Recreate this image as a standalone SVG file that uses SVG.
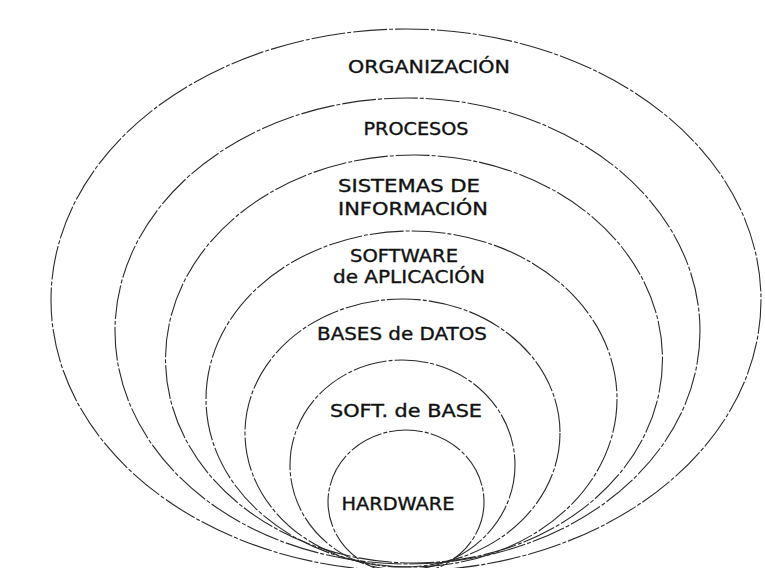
<svg xmlns="http://www.w3.org/2000/svg" width="765" height="568" viewBox="0 0 765 568">
<style>
.ring{fill:none;stroke:#2a2a2a;stroke-width:1.1;stroke-dasharray:34 2 4 2}
.lbl{font-family:"DejaVu Sans","Liberation Sans",sans-serif;font-size:17px;fill:#111;stroke:#111;stroke-width:0.35;text-anchor:middle}
</style>
<rect width="765" height="568" fill="#fff"/>
<g id="organizacion">
<ellipse class="ring" cx="406" cy="300" rx="355" ry="271"/>
<text class="lbl" x="429" y="73" textLength="162" lengthAdjust="spacingAndGlyphs">ORGANIZACIÓN</text>
</g>
<g id="procesos">
<ellipse class="ring" cx="407.5" cy="331" rx="292.5" ry="233"/>
<text class="lbl" x="416" y="135" textLength="105" lengthAdjust="spacingAndGlyphs">PROCESOS</text>
</g>
<g id="sistemas">
<ellipse class="ring" cx="414" cy="359" rx="248.5" ry="204"/>
<text class="lbl" x="409" y="192" textLength="142" lengthAdjust="spacingAndGlyphs">SISTEMAS DE</text>
<text class="lbl" x="413" y="215" textLength="150" lengthAdjust="spacingAndGlyphs">INFORMACIÓN</text>
</g>
<g id="software-aplicacion">
<ellipse class="ring" cx="411.5" cy="399" rx="205.5" ry="168"/>
<text class="lbl" x="404" y="262" textLength="108" lengthAdjust="spacingAndGlyphs">SOFTWARE</text>
<text class="lbl" x="409" y="283" textLength="152" lengthAdjust="spacingAndGlyphs">de APLICACIÓN</text>
</g>
<g id="bases-datos">
<ellipse class="ring" cx="402.5" cy="433" rx="157.5" ry="134"/>
<text class="lbl" x="402" y="340" textLength="170" lengthAdjust="spacingAndGlyphs">BASES de DATOS</text>
</g>
<g id="soft-base">
<ellipse class="ring" cx="402.5" cy="465" rx="112.5" ry="105"/>
<text class="lbl" x="406" y="417" textLength="152" lengthAdjust="spacingAndGlyphs">SOFT. de BASE</text>
</g>
<g id="hardware">
<ellipse class="ring" cx="406" cy="502" rx="78" ry="72"/>
<text class="lbl" x="398" y="510" textLength="113" lengthAdjust="spacingAndGlyphs">HARDWARE</text>
</g>
<g id="connectors"></g>
</svg>
